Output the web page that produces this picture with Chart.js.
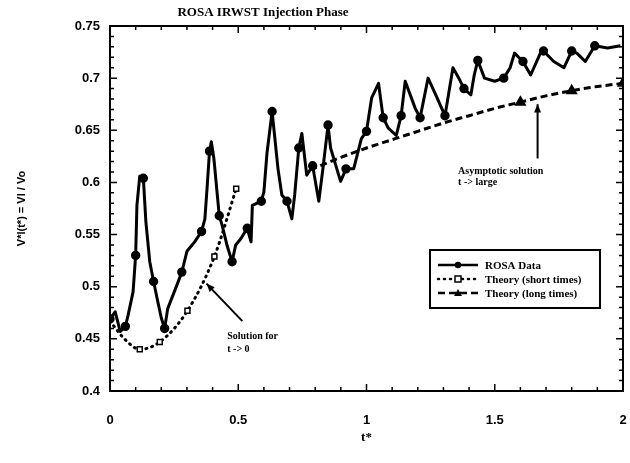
<!DOCTYPE html>
<html>
<head>
<meta charset="utf-8">
<script src="https://cdn.jsdelivr.net/npm/chart.js@4"></script>
<style>
  html, body { margin: 0; padding: 0; background: #fff; }
</style>
</head>
<body>
<canvas id="rosaChart" width="630" height="463"></canvas>
<script>
// ROSA measured level, dimensionless time vs volume ratio
const rosaT = [0.00, 0.02, 0.04, 0.06, 0.07, 0.09, 0.10, 0.105, 0.116, 0.13, 0.14, 0.155, 0.17, 0.186, 0.20,
  0.213, 0.225, 0.26, 0.28, 0.30, 0.33, 0.357, 0.37, 0.38, 0.388, 0.395, 0.405, 0.426, 0.437, 0.457,
  0.476, 0.49, 0.51, 0.535, 0.55, 0.555, 0.59, 0.60, 0.612, 0.632, 0.655, 0.67, 0.69, 0.709, 0.72,
  0.736, 0.748, 0.767, 0.79, 0.814, 0.83, 0.85, 0.86, 0.899, 0.92, 0.95, 0.98, 1.00, 1.02, 1.047,
  1.065, 1.085, 1.116, 1.135, 1.151, 1.19, 1.209, 1.24, 1.27, 1.306, 1.337, 1.36, 1.38, 1.407, 1.42,
  1.434, 1.46, 1.50, 1.535, 1.56, 1.577, 1.61, 1.64, 1.678, 1.69, 1.73, 1.77, 1.80, 1.82, 1.853,
  1.89, 1.94, 1.99];
const rosaV = [0.469, 0.476, 0.457, 0.462, 0.472, 0.495, 0.530, 0.578, 0.606, 0.604, 0.562, 0.524, 0.505, 0.486, 0.470,
  0.460, 0.479, 0.501, 0.514, 0.534, 0.543, 0.553, 0.565, 0.600, 0.630, 0.639, 0.623, 0.568, 0.559, 0.539,
  0.524, 0.540, 0.546, 0.556, 0.543, 0.578, 0.582, 0.591, 0.628, 0.668, 0.613, 0.588, 0.582, 0.565, 0.588,
  0.633, 0.647, 0.607, 0.616, 0.582, 0.613, 0.655, 0.633, 0.601, 0.613, 0.613, 0.642, 0.649, 0.681, 0.695,
  0.662, 0.652, 0.645, 0.664, 0.697, 0.671, 0.662, 0.700, 0.684, 0.664, 0.710, 0.700, 0.690, 0.684, 0.703,
  0.717, 0.700, 0.697, 0.700, 0.710, 0.724, 0.716, 0.703, 0.724, 0.726, 0.716, 0.710, 0.726, 0.724, 0.716,
  0.731, 0.729, 0.731];

// short-time theory
const shortT = [0.00, 0.06, 0.116, 0.194, 0.302, 0.407, 0.492];
const shortV = [0.467, 0.449, 0.440, 0.447, 0.477, 0.529, 0.594];

// long-time asymptotic theory
const longT = [0.78, 0.90, 1.00, 1.10, 1.20, 1.30, 1.40, 1.50, 1.60, 1.70, 1.80, 1.90, 2.00];
const longV = [0.612, 0.624, 0.633, 0.641, 0.649, 0.657, 0.664, 0.671, 0.677, 0.683, 0.688, 0.692, 0.695];

const xTicks = [0, 0.5, 1, 1.5, 2];
const yTicks = [0.4, 0.45, 0.5, 0.55, 0.6, 0.65, 0.7, 0.75];

const seriesLabels = ["ROSA Data", "Theory (short times)", "Theory (long times)"];

const toPoints = (ts, vs) => ts.map((t, i) => ({ x: t, y: vs[i] }));

const tickFont = { family: "'Liberation Sans', Arial, sans-serif", size: 13, weight: "bold" };
const serifBold = "bold 10px 'Liberation Serif', 'Times New Roman', serif";

// inward tick marks on all four sides, plus the frame
const frameTicks = {
  id: "frameTicks",
  afterDatasetsDraw(chart) {
    const { ctx, chartArea: a, scales } = chart;
    ctx.save();
    ctx.strokeStyle = "#000";
    ctx.lineWidth = 1.5;
    ctx.beginPath();
    for (let i = 0; i <= 20; i++) {
      const px = scales.x.getPixelForValue(i / 10);
      const len = i % 5 === 0 ? 7 : 4;
      ctx.moveTo(px, a.bottom); ctx.lineTo(px, a.bottom - len);
      ctx.moveTo(px, a.top); ctx.lineTo(px, a.top + len);
    }
    for (let i = 40; i <= 75; i++) {
      const py = scales.y.getPixelForValue(i / 100);
      const len = i % 5 === 0 ? 7 : 4;
      ctx.moveTo(a.left, py); ctx.lineTo(a.left + len, py);
      ctx.moveTo(a.right, py); ctx.lineTo(a.right - len, py);
    }
    ctx.stroke();
    ctx.lineWidth = 2;
    ctx.strokeRect(a.left, a.top, a.right - a.left, a.bottom - a.top);
    ctx.restore();
  }
};

function drawMarker(ctx, style, x, y) {
  ctx.save();
  ctx.setLineDash([]);
  ctx.lineWidth = 1.5;
  ctx.strokeStyle = "#000";
  ctx.beginPath();
  if (style === "circle") {
    ctx.fillStyle = "#000";
    ctx.arc(x, y, 3.2, 0, Math.PI * 2);
    ctx.fill();
  } else if (style === "rect") {
    ctx.fillStyle = "#fff";
    ctx.rect(x - 3, y - 3, 6, 6);
    ctx.fill();
    ctx.stroke();
  } else {
    ctx.fillStyle = "#000";
    ctx.moveTo(x, y - 4); ctx.lineTo(x + 4, y + 3); ctx.lineTo(x - 4, y + 3);
    ctx.closePath();
    ctx.fill();
  }
  ctx.restore();
}

function arrow(ctx, x1, y1, x2, y2) {
  const ang = Math.atan2(y2 - y1, x2 - x1);
  ctx.beginPath();
  ctx.moveTo(x1, y1); ctx.lineTo(x2, y2);
  ctx.stroke();
  ctx.beginPath();
  ctx.moveTo(x2, y2);
  ctx.lineTo(x2 - 9 * Math.cos(ang - 0.4), y2 - 9 * Math.sin(ang - 0.4));
  ctx.lineTo(x2 - 9 * Math.cos(ang + 0.4), y2 - 9 * Math.sin(ang + 0.4));
  ctx.closePath();
  ctx.fill();
}

// title, boxed legend and the two arrow notes
const notes = {
  id: "notes",
  afterDraw(chart) {
    const { ctx, scales: { x, y } } = chart;
    ctx.save();
    ctx.fillStyle = "#000";
    ctx.strokeStyle = "#000";

    ctx.font = "bold 13px 'Liberation Serif', 'Times New Roman', serif";
    ctx.textAlign = "center";
    ctx.textBaseline = "middle";
    ctx.fillText("ROSA IRWST Injection Phase", 263, 13);

    // legend box
    const bx = 430, by = 250, bw = 170, bh = 58;
    ctx.lineWidth = 2;
    ctx.strokeRect(bx, by, bw, bh);
    ctx.font = "bold 11px 'Liberation Serif', 'Times New Roman', serif";
    ctx.textAlign = "left";
    chart.data.datasets.forEach((ds, i) => {
      const ry = by + 15 + i * 14;
      ctx.save();
      ctx.lineWidth = 2.5;
      ctx.lineCap = ds.borderCapStyle || "butt";
      ctx.setLineDash(ds.borderDash || []);
      ctx.beginPath();
      ctx.moveTo(bx + 8, ry); ctx.lineTo(bx + 48, ry);
      ctx.stroke();
      ctx.restore();
      drawMarker(ctx, ds.pointStyle, bx + 28, ry);
      ctx.fillText(ds.label, bx + 55, ry + 1);
    });

    // notes with arrows
    ctx.lineWidth = 2;
    arrow(ctx, x.getPixelForValue(0.516), y.getPixelForValue(0.467),
      x.getPixelForValue(0.376), y.getPixelForValue(0.503));
    arrow(ctx, x.getPixelForValue(1.667), y.getPixelForValue(0.623),
      x.getPixelForValue(1.667), y.getPixelForValue(0.675));
    ctx.font = serifBold;
    ctx.fillText("Solution for", x.getPixelForValue(0.457), y.getPixelForValue(0.452));
    ctx.fillText("t -> 0", x.getPixelForValue(0.457), y.getPixelForValue(0.440));
    ctx.fillText("Asymptotic solution", x.getPixelForValue(1.357), y.getPixelForValue(0.611));
    ctx.fillText("t -> large", x.getPixelForValue(1.357), y.getPixelForValue(0.600));
    ctx.restore();
  }
};

new Chart(document.getElementById("rosaChart"), {
  type: "line",
  data: {
    datasets: [
      {
        label: seriesLabels[0],
        data: toPoints(rosaT, rosaV),
        borderColor: "#000",
        borderWidth: 3,
        borderJoinStyle: "round",
        tension: 0,
        pointStyle: "circle",
        pointRadius: (c) => (c.dataIndex % 3 === 0 ? 3.2 : 0),
        pointBackgroundColor: "#000",
        pointBorderColor: "#000",
      },
      {
        label: seriesLabels[1],
        data: toPoints(shortT, shortV),
        borderColor: "#000",
        borderWidth: 3,
        borderDash: [1, 5],
        borderCapStyle: "round",
        cubicInterpolationMode: "monotone",
        pointStyle: "rect",
        pointRadius: (c) => (c.dataIndex >= 2 ? 3.5 : 0),
        pointBackgroundColor: "#fff",
        pointBorderColor: "#000",
        pointBorderWidth: 1.5,
      },
      {
        label: seriesLabels[2],
        data: toPoints(longT, longV),
        borderColor: "#000",
        borderWidth: 3,
        borderDash: [7, 4],
        cubicInterpolationMode: "monotone",
        pointStyle: "triangle",
        pointRadius: (c) => ([8, 10, 12].includes(c.dataIndex) ? 4 : 0),
        pointBackgroundColor: "#000",
        pointBorderColor: "#000",
      },
    ],
  },
  options: {
    responsive: false,
    animation: false,
    layout: { padding: { top: 26, right: 3, left: 0, bottom: 0 } },
    plugins: {
      legend: { display: false },
      title: { display: false },
      tooltip: { enabled: false },
    },
    scales: {
      x: {
        type: "linear",
        min: 0,
        max: 2,
        afterBuildTicks: (s) => { s.ticks = xTicks.map((v) => ({ value: v })); },
        afterFit: (s) => { s.height = 72; s.paddingLeft = 0; s.paddingRight = 0; },
        grid: { display: false, drawTicks: false },
        border: { display: false },
        ticks: { color: "#000", font: tickFont, padding: 22, maxRotation: 0,
          callback: (v) => String(Math.round(v * 10) / 10) },
        title: { display: true, text: "t*", color: "#000",
          font: { family: "'Liberation Serif', serif", size: 13, weight: "bold" },
          padding: { top: 0, bottom: 18 } },
      },
      y: {
        min: 0.4,
        max: 0.75,
        afterBuildTicks: (s) => { s.ticks = yTicks.map((v) => ({ value: v })); },
        afterFit: (s) => { s.width = 110; s.paddingTop = 0; s.paddingBottom = 0; },
        grid: { display: false, drawTicks: false },
        border: { display: false },
        ticks: { color: "#000", font: tickFont, padding: 10,
          callback: (v) => String(Math.round(v * 100) / 100) },
        title: { display: true, text: "V*l(t*) = Vl / Vo", color: "#000",
          font: { family: "'Liberation Sans', Arial, sans-serif", size: 11, weight: "bold" },
          padding: { top: 15, bottom: 0 } },
      },
    },
  },
  plugins: [frameTicks, notes],
});
</script>
</body>
</html>
